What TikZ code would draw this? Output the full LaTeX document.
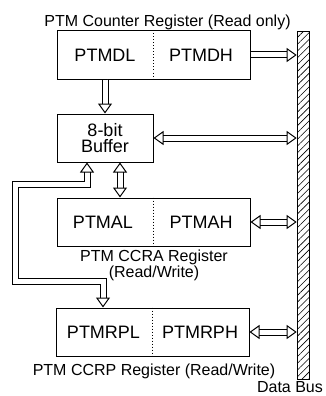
\documentclass[tikz,border=0pt]{standalone}
\usepackage{fontspec}
\setmainfont{Liberation Sans}
\usetikzlibrary{arrows.meta,patterns.meta}

\begin{document}
\begin{tikzpicture}[x=1pt,y=-1pt,
            reg/.style={draw,line width=1pt,minimum width=193pt,minimum height=48pt,inner sep=0pt},
            big/.style={font=\fontsize{18}{16}\selectfont,align=center},
            regcap/.style={font=\fontsize{16}{12}\selectfont,align=center,inner sep=0pt},
            pipe/.style={double,double distance=5pt,line width=1pt,line join=miter,-{Triangle[open,length=10pt,width=14pt]}},
            pipes/.style={pipe,{Triangle[open,length=10pt,width=14pt]}-{Triangle[open,length=10pt,width=14pt]}}]
            \useasboundingbox (0,0) rectangle (326,396);
            \draw (303,205.5) node[draw,line width=1pt,minimum width=12pt,minimum height=347pt,inner sep=0pt,pattern={Lines[angle=45,distance=4.8pt,line width=0.6pt]}] (dbus) {};
            \draw (290,392) node[regcap,anchor=base] (dbuslbl) {Data Bus};

            \draw (153.5,55) node[reg] (cnt) {};
            \draw (105,55) node[big] (pdl) {PTMDL};
            \draw (201,55) node[big] (pdh) {PTMDH};
            \draw (167.5,27) node[regcap,anchor=base] (cntlbl) {PTM Counter Register (Read only)};

            \draw (105,138) node[draw,line width=1pt,minimum width=96pt,minimum height=48pt,big] (buf) {8-bit\\Buffer};

            \draw (153.5,222) node[reg] (ccra) {};
            \draw (103,222) node[big] (pal) {PTMAL};
            \draw (201,222) node[big] (pah) {PTMAH};
            \draw (154,250) node[regcap,anchor=north] (ccralbl) {PTM CCRA Register\\(Read/Write)};

            \draw (152.5,332) node[reg] (ccrp) {};
            \draw (103.5,332) node[big] (prl) {PTMRPL};
            \draw (200,332) node[big] (prh) {PTMRPH};
            \draw (154,375) node[regcap,anchor=base] (ccrplbl) {PTM CCRP Register (Read/Write)};

            \draw[dotted,line width=1pt] (cnt.north) -- (cnt.south);
            \draw[dotted,line width=1pt] (ccra.north) -- (ccra.south);
            \draw[dotted,line width=1pt] (ccrp.north) -- (ccrp.south);

            \coordinate (bt) at ([xshift=15pt]buf.south);
            \coordinate (la) at ([xshift=-18pt]buf.south);
            \coordinate (lb) at (15,184);
            \coordinate (lc) at (15,281);
            \coordinate (ld) at (103,281);

            \draw[pipe] (cnt.east) -- (cnt.east -| dbus.west);
            \draw[pipes] (buf.east) -- (buf.east -| dbus.west);
            \draw[pipes] (ccra.east) -- (ccra.east -| dbus.west);
            \draw[pipes] (ccrp.east) -- (ccrp.east -| dbus.west);
            \draw[pipe] (pdl |- cnt.south) -- (pdl |- buf.north);
            \draw[pipes] (bt) -- (bt |- ccra.north);
            \draw[pipes] (la) -- (la |- lb) -- (lb) -- (lc) -- (ld) -- (ld |- ccrp.north);
        \end{tikzpicture}
\end{document}
